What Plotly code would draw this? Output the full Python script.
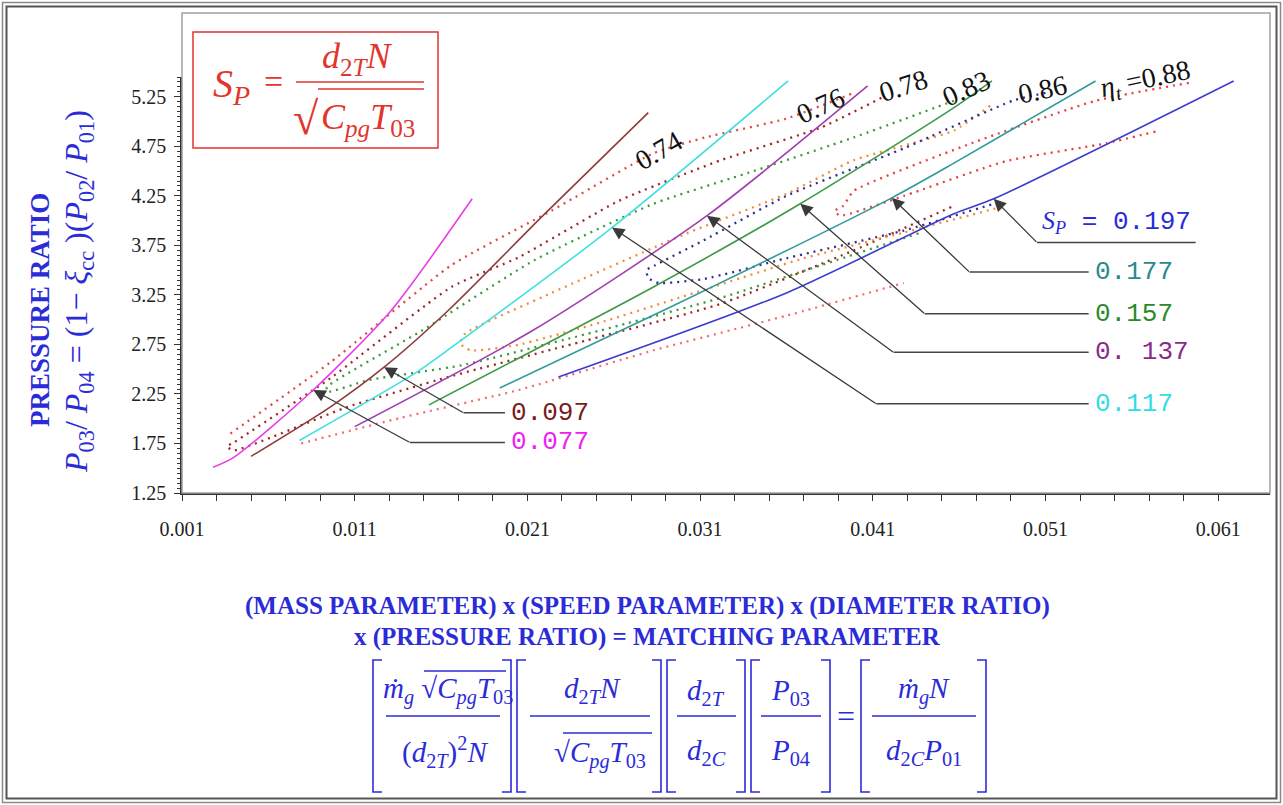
import numpy as np
import plotly.graph_objects as go

# ---------------- data ----------------
x_ticks = [0.001, 0.011, 0.021, 0.031, 0.041, 0.051, 0.061]
x_tick_labels = ["0.001", "0.011", "0.021", "0.031", "0.041", "0.051", "0.061"]
y_ticks = [1.25, 1.75, 2.25, 2.75, 3.25, 3.75, 4.25, 4.75, 5.25]
y_tick_labels = ["1.25", "1.75", "2.25", "2.75", "3.25", "3.75", "4.25", "4.75", "5.25"]
x_minor = [round(0.003 + 0.002 * i, 4) for i in range(30) if round(0.003 + 0.002 * i, 4) not in x_ticks]
y_minor = [round(1.25 + 0.05 * i, 2) for i in range(85)]

X_RANGE = [0.001, 0.0640]
Y_RANGE = [1.25, 5.45]

# constant speed-parameter lines (S_P)
sp_names = ["0.077", "0.097", "0.117", "0.137", "0.157", "0.177", "0.197"]
sp077_x = [0.0028, 0.0040, 0.0086, 0.0131, 0.0178]
sp077_y = [1.51, 1.61, 2.29, 3.09, 4.22]
sp097_x = [0.0050, 0.0096, 0.0127, 0.0164, 0.0219, 0.0280]
sp097_y = [1.62, 2.12, 2.52, 3.09, 4.05, 5.09]
sp117_x = [0.0078, 0.0145, 0.0166, 0.0259, 0.0361]
sp117_y = [1.78, 2.46, 2.72, 3.93, 5.41]
sp137_x = [0.0110, 0.0213, 0.0314, 0.0407]
sp137_y = [1.92, 2.89, 4.05, 5.36]
sp157_x = [0.0153, 0.0283, 0.0368, 0.0457, 0.0479]
sp157_y = [2.14, 3.33, 4.17, 5.14, 5.41]
sp177_x = [0.0194, 0.0292, 0.0421, 0.0457, 0.0539]
sp177_y = [2.31, 3.12, 4.23, 4.58, 5.41]
sp197_x = [0.0228, 0.0360, 0.0457, 0.0480, 0.0619]
sp197_y = [2.42, 3.27, 4.07, 4.22, 5.41]

# efficiency contours (dotted)
eff_a_x = [0.0038, 0.0096, 0.0166, 0.0224, 0.0283, 0.0313, 0.0360, 0.0399]
eff_a_y = [1.85, 2.57, 3.55, 4.10, 4.68, 4.84, 5.03, 5.29]
eff_b_x = [0.0415, 0.0380, 0.0322, 0.0263, 0.0205, 0.0166, 0.0096, 0.0040, 0.0036,
           0.0040, 0.0106, 0.0164, 0.0244, 0.0322, 0.0399, 0.0457]
eff_b_y = [5.24, 4.94, 4.61, 4.20, 3.63, 3.33, 2.41, 1.76, 1.72,
           1.68, 2.12, 2.42, 2.79, 3.16, 3.70, 4.15]
eff_c_x = [0.0457, 0.0399, 0.0341, 0.0283, 0.0214, 0.0149, 0.0094,
           0.0094, 0.0118, 0.0172, 0.0252, 0.0322, 0.0380, 0.0438]
eff_c_y = [5.21, 4.84, 4.50, 4.17, 3.60, 2.89, 2.32,
           2.27, 2.39, 2.54, 2.89, 3.22, 3.55, 3.88]
eff_d_x = [0.0478, 0.0457, 0.0399, 0.0360, 0.0302, 0.0224, 0.0174, 0.0171,
           0.0177, 0.0203, 0.0252, 0.0312, 0.0370, 0.0428, 0.0487]
eff_d_y = [5.16, 4.91, 4.61, 4.27, 3.87, 3.27, 2.86, 2.76,
           2.69, 2.74, 2.97, 3.30, 3.62, 3.88, 4.15]
eff_e_x = [0.0510, 0.0491, 0.0428, 0.0360, 0.0312, 0.0284, 0.0279, 0.0280,
           0.0286, 0.0312, 0.0360, 0.0428, 0.0482]
eff_e_y = [5.29, 5.21, 4.73, 4.25, 3.80, 3.55, 3.50, 3.42,
           3.37, 3.41, 3.62, 3.90, 4.18]
eff_f_x = [0.0593, 0.0539, 0.0467, 0.0399, 0.0393, 0.0388,
           0.0391, 0.0428, 0.0487, 0.0545, 0.0574]
eff_f_y = [5.39, 5.21, 4.78, 4.30, 4.15, 4.10,
           4.05, 4.25, 4.60, 4.78, 4.90]
eff_g_x = [0.0079, 0.0137, 0.0205, 0.0283, 0.0360, 0.0428]
eff_g_y = [1.75, 2.01, 2.29, 2.69, 3.04, 3.37]

eff_labels = ["0.74", "0.76", "0.78", "0.83", "0.86", "<i>η</i><sub><i>t</i></sub> =0.88"]
eff_label_x = [0.0286, 0.0380, 0.0428, 0.0464, 0.0508, 0.0568]
eff_label_y = [4.71, 5.16, 5.36, 5.33, 5.32, 5.41]
eff_label_angle = [-30, -24, -18, -24, -12, -12]

# arrow tips (x on the line), leader bends, leader ends
tip_x = [0.0086, 0.0127, 0.0259, 0.0314, 0.0368, 0.0421, 0.0480]
bend_x = [0.0142, 0.0173, 0.0412, 0.0422, 0.0440, 0.0466, 0.0505]
bend_y = [1.76, 2.06, 2.15, 2.67, 3.06, 3.48, 3.78]
lead_end_x = [0.0197, 0.0197, 0.0535, 0.0535, 0.0535, 0.0535, 0.0597]

# ---------------- styling ----------------
W, H = 1283, 805
PL, PR, PT, PB = 182, 1270, 77, 493
SERIF = "Liberation Serif"
MONO = "Liberation Mono"
BLUE = "#2b2bd8"
RED = "#e2352c"

sp_colors = ["#e83ee6", "#8e3b3b", "#3fe0e0", "#a03fae", "#3d9a45", "#2f9a9a", "#3c3cd0"]
lab_colors = ["#ee22ee", "#7a1c1c", "#30dde6", "#8a2a8a", "#2a8a2a", "#2a8a8a", BLUE]
eff_styles = [
    (eff_a_x, eff_a_y, "#e24a44"),
    (eff_b_x, eff_b_y, "#9e2626"),
    (eff_c_x, eff_c_y, "#3a9a3a"),
    (eff_d_x, eff_d_y, "#f28c38"),
    (eff_e_x, eff_e_y, "#2f2f90"),
    (eff_f_x, eff_f_y, "#e8403a"),
    (eff_g_x, eff_g_y, "#f07070"),
]


def px2x(p):
    return (p - PL) / (PR - PL)


def py2y(p):
    return (PB - p) / (PB - PT)


fig = go.Figure()

for xs, ys, c in eff_styles:
    fig.add_trace(go.Scatter(x=xs, y=ys, mode="lines",
                             line=dict(color=c, width=2.3, dash="2px,5px", shape="spline", smoothing=0.5),
                             hoverinfo="skip", showlegend=False))

sp_xs = [sp077_x, sp097_x, sp117_x, sp137_x, sp157_x, sp177_x, sp197_x]
sp_ys = [sp077_y, sp097_y, sp117_y, sp137_y, sp157_y, sp177_y, sp197_y]
for name, xs, ys, c in zip(sp_names, sp_xs, sp_ys, sp_colors):
    fig.add_trace(go.Scatter(x=xs, y=ys, mode="lines", name=name,
                             line=dict(color=c, width=1.6, shape="spline", smoothing=0.7),
                             hoverinfo="skip", showlegend=False))

annotations = []
shapes = []


def text(px, py, t, size, color, family=SERIF, angle=0, xanchor="center"):
    annotations.append(dict(x=px2x(px), y=py2y(py), xref="paper", yref="paper", text=t,
                            showarrow=False, textangle=angle, xanchor=xanchor, yanchor="middle",
                            font=dict(family=family, size=size, color=color)))


def pline(x0, y0, x1, y1, color, width=1.5):
    shapes.append(dict(type="line", xref="paper", yref="paper",
                       x0=px2x(x0), y0=py2y(y0), x1=px2x(x1), y1=py2y(y1),
                       line=dict(color=color, width=width)))


def bracket(px, top, bot, color, side="left", serif=9, width=1.6):
    d = serif if side == "left" else -serif
    path = "M {},{} L {},{} L {},{} L {},{}".format(
        px2x(px + d), py2y(top), px2x(px), py2y(top), px2x(px), py2y(bot), px2x(px + d), py2y(bot))
    shapes.append(dict(type="path", xref="paper", yref="paper", path=path,
                       line=dict(color=color, width=width)))


# frames
shapes.append(dict(type="rect", xref="paper", yref="paper", x0=px2x(182), x1=px2x(PR),
                   y0=0, y1=py2y(13), line=dict(color="#a0a0a0", width=1.5)))
shapes.append(dict(type="rect", xref="paper", yref="paper", x0=px2x(2.5), x1=px2x(1280.5),
                   y0=py2y(802.5), y1=py2y(2.5), line=dict(color="#8a8a8a", width=1.5)))
shapes.append(dict(type="rect", xref="paper", yref="paper", x0=px2x(6.5), x1=px2x(1276.5),
                   y0=py2y(798.5), y1=py2y(6.5), line=dict(color="#555555", width=2)))

# leaders + arrows
for i, name in enumerate(sp_names):
    ty = float(np.interp(tip_x[i], sp_xs[i], sp_ys[i]))
    annotations.append(dict(x=tip_x[i], y=ty, xref="x", yref="y", ax=bend_x[i], ay=bend_y[i],
                            axref="x", ayref="y", text=" ", font=dict(size=1), borderpad=0,
                            showarrow=True, arrowhead=2,
                            arrowsize=1.9, arrowwidth=1.3, arrowcolor="#3a3a3a"))
    shapes.append(dict(type="line", xref="x", yref="y", x0=bend_x[i], x1=lead_end_x[i],
                       y0=bend_y[i], y1=bend_y[i], line=dict(color="#444", width=1.5)))

lab_text = ["0.077", "0.097", "0.117", "0. 137", "0.157", "0.177"]
for i, t in enumerate(lab_text):
    annotations.append(dict(x=lead_end_x[i], y=bend_y[i], xref="x", yref="y", text=t,
                            showarrow=False, xanchor="left", yanchor="middle", xshift=4,
                            font=dict(family=MONO, size=26, color=lab_colors[i])))
annotations.append(dict(x=(bend_x[6] + lead_end_x[6]) / 2, y=bend_y[6], xref="x", yref="y",
                        text="<span style='font-family:Liberation Serif'><i>S</i><sub><i>P</i></sub></span> = 0.197",
                        showarrow=False, xanchor="center", yanchor="bottom", yshift=2,
                        font=dict(family=MONO, size=26, color=BLUE)))

# efficiency labels
for t, x, y, a in zip(eff_labels, eff_label_x, eff_label_y, eff_label_angle):
    annotations.append(dict(x=x, y=y, xref="x", yref="y", text=t, showarrow=False, textangle=a,
                            font=dict(family=SERIF, size=28, color="#111")))

# S_P definition box
shapes.append(dict(type="rect", xref="paper", yref="paper", x0=px2x(193), x1=px2x(438),
                   y0=py2y(148), y1=py2y(32), line=dict(color=RED, width=1.5)))
text(231, 86, "<i>S</i><sub><i>P</i></sub>", 40, RED)
text(273, 82, "=", 34, RED)
text(357, 58, "<i>d</i><sub>2<i>T</i></sub><i>N</i>", 36, RED)
pline(296, 82, 424, 82, RED, 1.6)
text(306, 118, "√", 46, RED)
pline(318, 89, 424, 89, RED, 1.3)
text(368, 120, "<i>C</i><sub><i>pg</i></sub><i>T</i><sub>03</sub>", 36, RED)

# y title
text(40, 310, "<b>PRESSURE RATIO</b>", 27, BLUE, angle=-90)
text(78, 292, "<i>P</i><sub>03</sub>/ <i>P</i><sub>04</sub> = (1− <i>ξ</i><sub>cc</sub> )(<i>P</i><sub>02</sub>/ <i>P</i><sub>01</sub>)",
     32, BLUE, angle=-90)

# x title
text(647, 606, "<b>(MASS PARAMETER) x (SPEED PARAMETER) x (DIAMETER RATIO)</b>", 25, BLUE)
text(647, 637, "<b>x (PRESSURE RATIO) = MATCHING PARAMETER</b>", 25, BLUE)

# matching-parameter equation
FS = 29
TOP, BOT, BAR = 660, 792, 716
# bracket 1
bracket(373, TOP, BOT, BLUE, "left")
bracket(511, TOP, BOT, BLUE, "right")
text(448, 690, "<i>ṁ</i><sub><i>g</i></sub> √<i>C</i><sub><i>pg</i></sub><i>T</i><sub>03</sub>", FS, BLUE)
pline(424, 671, 506, 671, BLUE, 1.3)
pline(386, BAR, 500, BAR, BLUE, 1.5)
text(445, 752, "(<i>d</i><sub>2<i>T</i></sub>)<sup>2</sup><i>N</i>", FS, BLUE)
# bracket 2
bracket(517, TOP, BOT, BLUE, "left")
bracket(661, TOP, BOT, BLUE, "right")
text(592, 690, "<i>d</i><sub>2<i>T</i></sub><i>N</i>", FS, BLUE)
pline(530, BAR, 650, BAR, BLUE, 1.5)
text(600, 754, "√<i>C</i><sub><i>pg</i></sub><i>T</i><sub>03</sub>", FS, BLUE)
pline(563, 733, 652, 733, BLUE, 1.3)
# bracket 3
bracket(667, TOP, BOT, BLUE, "left")
bracket(745, TOP, BOT, BLUE, "right")
text(706, 692, "<i>d</i><sub>2<i>T</i></sub>", FS, BLUE)
pline(677, BAR, 736, BAR, BLUE, 1.5)
text(706, 752, "<i>d</i><sub>2<i>C</i></sub>", FS, BLUE)
# bracket 4
bracket(751, TOP, BOT, BLUE, "left")
bracket(830, TOP, BOT, BLUE, "right")
text(790, 692, "<i>P</i><sub>03</sub>", FS, BLUE)
pline(761, BAR, 821, BAR, BLUE, 1.5)
text(790, 752, "<i>P</i><sub>04</sub>", FS, BLUE)
text(846, 716, "=", 32, BLUE)
# bracket 5
bracket(861, TOP, BOT, BLUE, "left")
bracket(986, TOP, BOT, BLUE, "right")
text(924, 690, "<i>ṁ</i><sub><i>g</i></sub><i>N</i>", FS, BLUE)
pline(872, BAR, 976, BAR, BLUE, 1.5)
text(924, 752, "<i>d</i><sub>2<i>C</i></sub><i>P</i><sub>01</sub>", FS, BLUE)

axis_font = dict(family=SERIF, size=20, color="#222")
fig.update_layout(
    width=W, height=H,
    margin=dict(l=PL, r=W - PR, t=PT, b=H - PB, pad=0),
    paper_bgcolor="white", plot_bgcolor="white", showlegend=False,
    xaxis=dict(range=X_RANGE, tickmode="array", tickvals=x_ticks, ticktext=x_tick_labels,
               ticks="outside", ticklen=6, tickwidth=1.2, tickcolor="#333",
               showline=True, linecolor="#333", linewidth=1.5, showgrid=False, zeroline=False,
               tickfont=axis_font, ticklabelstandoff=11,
               minor=dict(tickmode="array", tickvals=x_minor, ticks="outside", ticklen=6,
                          tickwidth=1.2, tickcolor="#333", showgrid=False)),
    yaxis=dict(range=Y_RANGE, tickmode="array", tickvals=y_ticks, ticktext=y_tick_labels,
               ticks="outside", ticklen=6, tickwidth=1.2, tickcolor="#333",
               showline=True, linecolor="#333", linewidth=1.5, showgrid=False, zeroline=False,
               tickfont=axis_font, ticklabelstandoff=4,
               minor=dict(tickmode="array", tickvals=y_minor, ticks="outside", ticklen=3,
                          tickwidth=1, tickcolor="#333", showgrid=False)),
    annotations=annotations,
    shapes=shapes,
)

fig.write_html("out.html")
